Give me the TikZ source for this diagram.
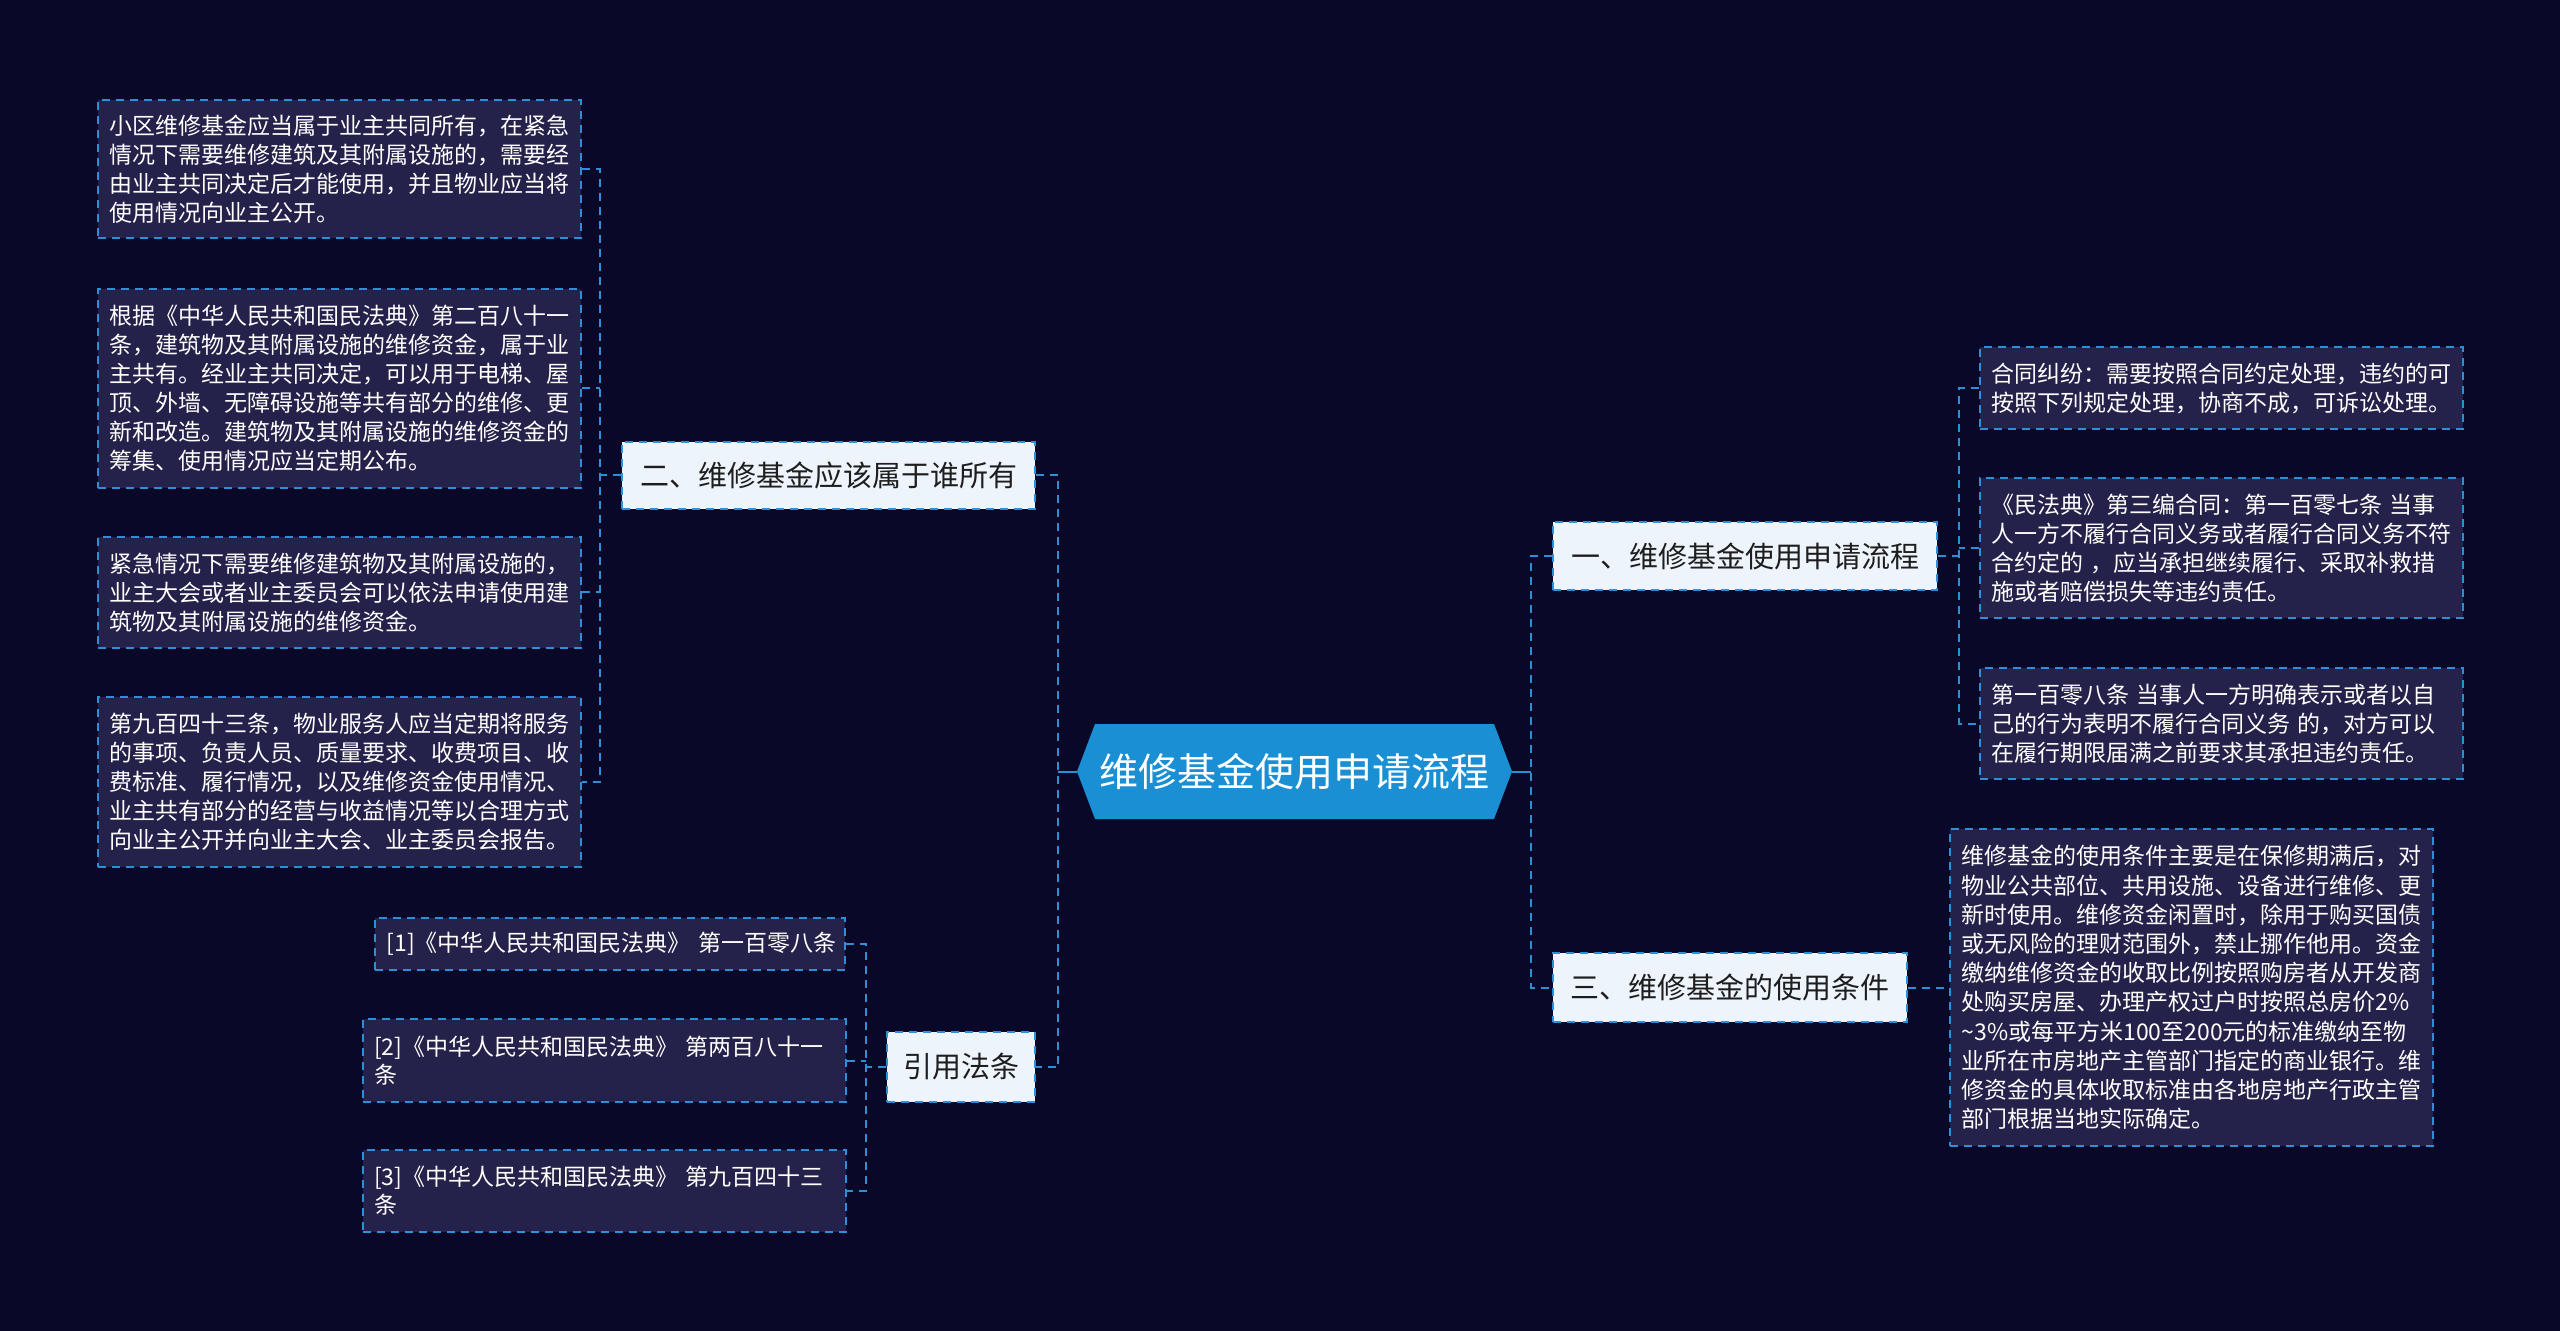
\documentclass[tikz,border=0pt]{standalone}
\usepackage{fontspec}
\setmainfont{Noto Sans CJK SC}
\definecolor{bgnavy}{RGB}{10,8,40}
\definecolor{leaffill}{RGB}{36,33,74}
\definecolor{linkblue}{RGB}{45,143,213}
\definecolor{rootblue}{RGB}{26,143,211}
\definecolor{branchfill}{RGB}{238,244,251}
\definecolor{branchtext}{RGB}{30,30,30}
\tikzset{
	leaf/.style={draw=linkblue, fill=leaffill, text=white, line width=1pt,
		dash pattern=on 4pt off 3pt, text width=230pt, inner xsep=5.75pt, inner ysep=0pt,
		align=left, font=\fontsize{11.5}{14.5}\selectfont},
	branch/.style={draw=linkblue, fill=branchfill, text=branchtext, line width=1pt,
		dash pattern=on 4pt off 3pt, inner sep=0pt, align=center,
		font=\fontsize{14.5}{17}\selectfont},
	link/.style={draw=linkblue, line width=1pt, dash pattern=on 4pt off 3pt},
	rootlink/.style={draw=linkblue, line width=1pt}
}
\begin{document}
\begin{tikzpicture}[x=0.5pt, y=-0.5pt]
	\useasboundingbox (0, 0) rectangle (2560, 1331);
	\fill[bgnavy] (0, 0) rectangle (2560, 1331);

	% centre
	\fill[rootblue] (1077, 771.5) -- (1095, 724) -- (1494, 724) -- (1512, 771.5)
		-- (1494, 819) -- (1095, 819) -- cycle;
	\node[minimum width=217.5pt, minimum height=47.5pt, inner sep=0pt, text=white,
		font=\fontsize{19.5}{23}\selectfont] (root) at (1294.5, 771.5) {维修基金使用申请流程};

	% branches
	\node[branch, minimum width=206.5pt, minimum height=33.5pt] (own) at (828.5, 475.5) {二、维修基金应该属于谁所有};
	\node[branch, minimum width=74pt, minimum height=35pt] (cite) at (961, 1067) {引用法条};
	\node[branch, minimum width=192pt, minimum height=34pt] (proc) at (1745, 556) {一、维修基金使用申请流程};
	\node[branch, minimum width=177pt, minimum height=34.5pt] (cond) at (1730, 987.5) {三、维修基金的使用条件};

	% left leaves
	\node[leaf, minimum height=69pt] (own1) at (339.5, 169) {小区维修基金应当属于业主共同所有，在紧急\\情况下需要维修建筑及其附属设施的，需要经\\由业主共同决定后才能使用，并且物业应当将\\使用情况向业主公开。};
	\node[leaf, minimum height=99.5pt] (own2) at (339.5, 388.5) {根据《中华人民共和国民法典》第二百八十一\\条，建筑物及其附属设施的维修资金，属于业\\主共有。经业主共同决定，可以用于电梯、屋\\顶、外墙、无障碍设施等共有部分的维修、更\\新和改造。建筑物及其附属设施的维修资金的\\筹集、使用情况应当定期公布。};
	\node[leaf, minimum height=55.5pt] (own3) at (339.5, 592.5) {紧急情况下需要维修建筑物及其附属设施的，\\业主大会或者业主委员会可以依法申请使用建\\筑物及其附属设施的维修资金。};
	\node[leaf, minimum height=85pt] (own4) at (339.5, 782) {第九百四十三条，物业服务人应当定期将服务\\的事项、负责人员、质量要求、收费项目、收\\费标准、履行情况，以及维修资金使用情况、\\业主共有部分的经营与收益情况等以合理方式\\向业主公开并向业主大会、业主委员会报告。};

	% cited articles
	\node[leaf, text width=223.5pt, minimum height=26pt] (cite1) at (610, 944) {[1]《中华人民共和国民法典》~第一百零八条};
	\node[leaf, minimum height=41.5pt, font=\fontsize{11.5}{14}\selectfont] (cite2) at (604, 1060.5) {[2]《中华人民共和国民法典》 第两百八十一\\条};
	\node[leaf, minimum height=41pt, font=\fontsize{11.5}{14}\selectfont] (cite3) at (604, 1191) {[3]《中华人民共和国民法典》 第九百四十三\\条};

	% right leaves
	\node[leaf, minimum height=41pt] (proc1) at (2221, 388) {合同纠纷：需要按照合同约定处理，违约的可\\按照下列规定处理，协商不成，可诉讼处理。};
	\node[leaf, minimum height=70pt] (proc2) at (2221, 548) {《民法典》第三编合同：第一百零七条 当事\\人一方不履行合同义务或者履行合同义务不符\\合约定的 ，应当承担继续履行、采取补救措\\施或者赔偿损失等违约责任。};
	\node[leaf, minimum height=55.5pt] (proc3) at (2221, 723.5) {第一百零八条 当事人一方明确表示或者以自\\己的行为表明不履行合同义务 的，对方可以\\在履行期限届满之前要求其承担违约责任。};
	\node[leaf, minimum height=158.5pt, font=\fontsize{11.5}{14.6}\selectfont] (cond1) at (2191.5, 987.5) {维修基金的使用条件主要是在保修期满后，对\\物业公共部位、共用设施、设备进行维修、更\\新时使用。维修资金闲置时，除用于购买国债\\或无风险的理财范围外，禁止挪作他用。资金\\缴纳维修资金的收取比例按照购房者从开发商\\处购买房屋、办理产权过户时按照总房价2\%\\\textasciitilde3\%或每平方米100至200元的标准缴纳至物\\业所在市房地产主管部门指定的商业银行。维\\修资金的具体收取标准由各地房地产行政主管\\部门根据当地实际确定。};

	% trunks
	\coordinate (tl) at (1058, 771.5);
	\coordinate (tr) at (1531, 771.5);
	\coordinate (town) at (600, 475.5);
	\coordinate (tcite) at (866, 1067);
	\coordinate (tproc) at (1959, 556);

	% connectors from the centre
	\draw[rootlink] (root.west) -- (tl);
	\draw[rootlink] (root.east) -- (tr);
	\draw[link] (own.east) -| (tl) |- (cite.east);
	\draw[link] (proc.west) -| (tr) |- (cond.west);

	% connectors to the leaves
	\draw[link] (own.west) -- (town);
	\draw[link] (own1.east) -| (town) |- (own4.east);
	\foreach \n in {own2, own3}{
		\draw[link] (\n.east) -- (\n.east -| town);
	}
	\draw[link] (cite.west) -- (tcite);
	\draw[link] (cite1.east) -| (tcite) |- (cite3.east);
	\draw[link] (cite2.east) -- (cite2.east -| tcite);
	\draw[link] (proc.east) -- (tproc);
	\draw[link] (proc1.west) -| (tproc) |- (proc3.west);
	\draw[link] (proc2.west) -- (proc2.west -| tproc);
	\draw[link] (cond.east) -- (cond1.west);
\end{tikzpicture}
\end{document}
